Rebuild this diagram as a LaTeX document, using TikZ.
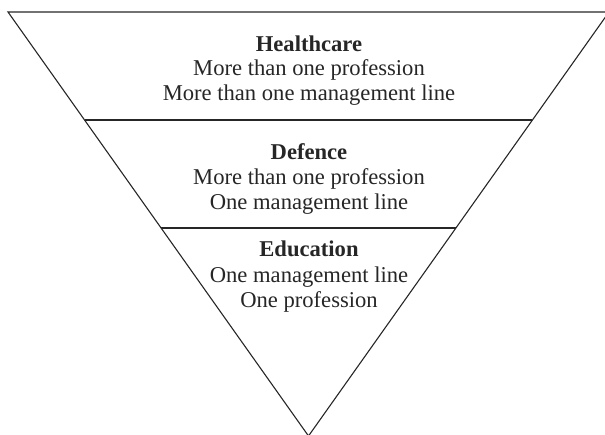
\documentclass[tikz,border=0pt]{standalone}
\usepackage{fontspec}
\setmainfont{Liberation Serif}
\usetikzlibrary{calc}
\begin{document}
\begin{tikzpicture}[x=1pt,y=1pt,
  edge/.style={line width=1.1pt, draw=black!85, line join=miter},
  txt/.style={anchor=base, inner sep=0pt, font=\fontsize{22.6}{25}\selectfont, text=black!85},
  ttl/.style={txt, font=\fontsize{22.6}{25}\selectfont\bfseries}]
\useasboundingbox (0,0) rectangle (605,435);
\begin{scope}
\clip (0,0) rectangle (605,435);
\coordinate (tl) at (8,423);
\coordinate (tr) at (609,423);
\coordinate (ap) at (308.5,-1);
\draw[edge] (tl) -- (tr) -- (ap) -- cycle;
% divider lines
\coordinate (l1) at ($(tl)!0.2547!(ap)$);
\coordinate (r1) at ($(tr)!0.2547!(ap)$);
\coordinate (l2) at ($(tl)!0.5094!(ap)$);
\coordinate (r2) at ($(tr)!0.5094!(ap)$);
\draw[edge] (l1) -- (r1);
\draw[edge] (l2) -- (r2);
\end{scope}
% Healthcare
\node[ttl] (h0) at (309,383) {Healthcare};
\node[txt] (h1) at (309,359) {More than one profession};
\node[txt] (h2) at (309,334) {More than one management line};
% Defence
\node[ttl] (d0) at (309,275) {Defence};
\node[txt] (d1) at (309,250) {More than one profession};
\node[txt] (d2) at (309,225) {One management line};
% Education
\node[ttl] (e0) at (309,178) {Education};
\node[txt] (e1) at (309,152) {One management line};
\node[txt] (e2) at (309,127) {One profession};
\end{tikzpicture}
\end{document}
